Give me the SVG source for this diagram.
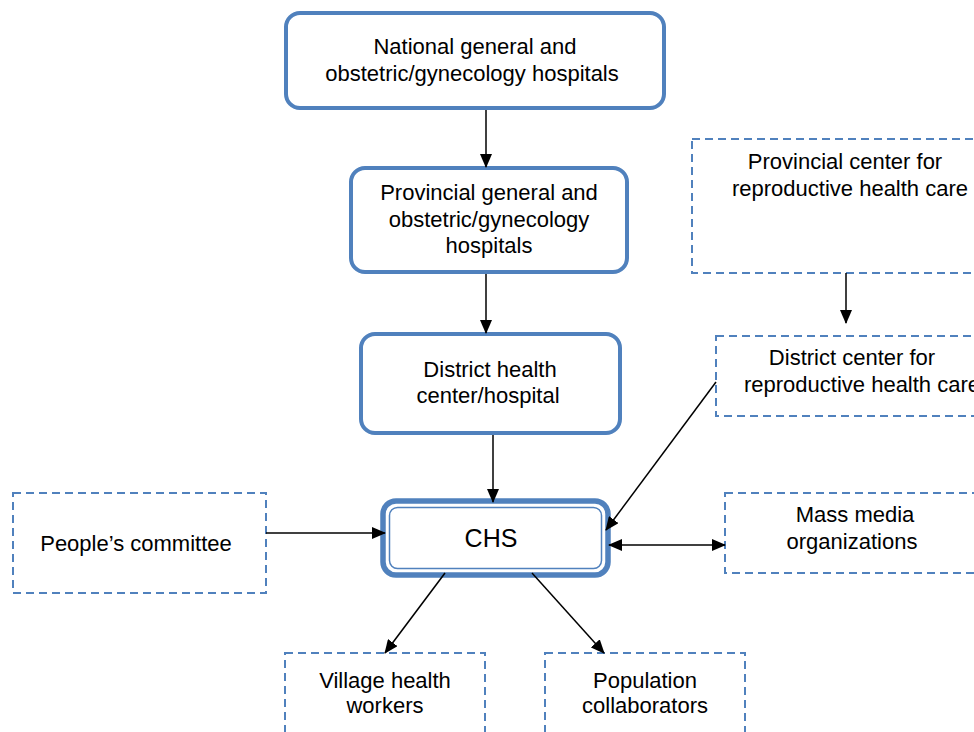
<svg xmlns="http://www.w3.org/2000/svg" width="974" height="732" viewBox="0 0 974 732">
<defs>
<style>
.solid{fill:#fff;stroke:#5081BD;stroke-width:4}
.dash{fill:#fff;stroke:#5081BD;stroke-width:2;stroke-dasharray:8 5}
.t{font-family:"Liberation Sans",Arial,sans-serif;font-size:22px;fill:#000;text-anchor:middle}
.c{stroke:#000;stroke-width:1.5;fill:none}
</style>
<marker id="ah" markerUnits="userSpaceOnUse" markerWidth="14" markerHeight="12" refX="13" refY="6" orient="auto-start-reverse" viewBox="0 0 14 12">
<path d="M0,0 L14,6 L0,12 z" fill="#000"/>
</marker>
</defs>
<rect width="974" height="732" fill="#fff"/>

<g id="national">
<rect class="solid" x="286" y="13" width="378" height="95" rx="14"/>
<text class="t" x="475" y="54">National general and</text>
<text class="t" x="472" y="81">obstetric/gynecology hospitals</text>
</g>

<g id="provincial-hospitals">
<rect class="solid" x="351" y="168" width="276" height="104" rx="14"/>
<text class="t" x="489" y="200">Provincial general and</text>
<text class="t" x="489" y="227">obstetric/gynecology</text>
<text class="t" x="489" y="253">hospitals</text>
</g>

<g id="district-health">
<rect class="solid" x="361" y="334" width="259" height="99" rx="14"/>
<text class="t" x="490" y="377">District health</text>
<text class="t" x="488" y="403">center/hospital</text>
</g>

<g id="chs">
<rect x="383" y="501" width="225" height="74" rx="13" fill="#fff" stroke="#5081BD" stroke-width="5.5"/>
<rect x="389.5" y="507.5" width="212" height="61" rx="8" fill="none" stroke="#5081BD" stroke-width="1.5"/>
<text class="t" x="491" y="547" style="font-size:25px">CHS</text>
</g>

<g id="peoples-committee">
<rect class="dash" x="13" y="493" width="253" height="100"/>
<text class="t" x="136" y="551">People’s committee</text>
</g>

<g id="mass-media">
<rect class="dash" x="725" y="493" width="260" height="80"/>
<text class="t" x="855" y="522">Mass media</text>
<text class="t" x="852" y="549">organizations</text>
</g>

<g id="provincial-center">
<rect class="dash" x="692" y="139" width="300" height="134"/>
<text class="t" x="845" y="169">Provincial center for</text>
<text class="t" x="850" y="196">reproductive health care</text>
</g>

<g id="district-center">
<rect class="dash" x="716" y="336" width="280" height="80"/>
<text class="t" x="852" y="365">District center for</text>
<text class="t" x="862" y="392">reproductive health care</text>
</g>

<g id="village">
<rect class="dash" x="285" y="653" width="200" height="100"/>
<text class="t" x="385" y="688">Village health</text>
<text class="t" x="385" y="713">workers</text>
</g>

<g id="population">
<rect class="dash" x="545" y="653" width="200" height="100"/>
<text class="t" x="645" y="688">Population</text>
<text class="t" x="645" y="713">collaborators</text>
</g>

<g id="connectors">
<line class="c" x1="486" y1="110" x2="486" y2="167" marker-end="url(#ah)"/>
<line class="c" x1="486" y1="274" x2="486" y2="333" marker-end="url(#ah)"/>
<line class="c" x1="493" y1="435" x2="493" y2="502" marker-end="url(#ah)"/>
<line class="c" x1="266" y1="533" x2="385" y2="533" marker-end="url(#ah)"/>
<line class="c" x1="716" y1="382" x2="606" y2="530" marker-end="url(#ah)"/>
<line class="c" x1="609" y1="545" x2="725" y2="545" marker-start="url(#ah)" marker-end="url(#ah)"/>
<line class="c" x1="445" y1="573" x2="385" y2="653" marker-end="url(#ah)"/>
<line class="c" x1="532" y1="573" x2="604" y2="653" marker-end="url(#ah)"/>
<line class="c" x1="846" y1="273" x2="846" y2="323" marker-end="url(#ah)"/>
</g>
</svg>
